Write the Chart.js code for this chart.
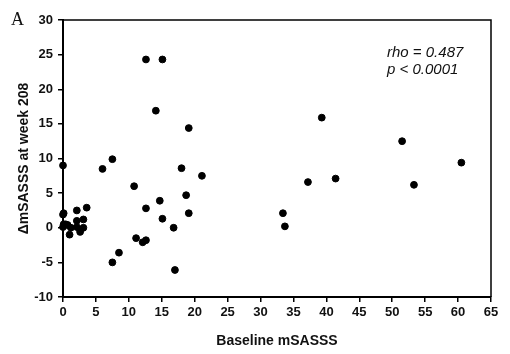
<!DOCTYPE html>
<html>
<head>
<meta charset="utf-8">
<script src="https://cdn.jsdelivr.net/npm/chart.js@4/dist/chart.umd.min.js"></script>
<style>
    html, body { margin: 0; padding: 0; background: #fff; }
    #wrap { width: 510px; height: 354px; position: relative; }
</style>
</head>
<body>
<div id="wrap"><canvas id="chart"></canvas></div>
<script>
// Baseline mSASSS (x) and change at week 208 (y)
const baseline = [0, 6.0, 7.5, 12.6, 15.1, 14.1, 19.1, 18.0, 21.1, 39.3, 51.5, 60.5, 37.2, 41.4, 53.3,
    33.4, 33.7, 10.8, 14.7, 12.6, 15.1, 18.7, 19.1, 11.1, 12.1, 12.6, 8.5, 7.5, 16.8, 17.0,
    0, 0, 0.1, 0.4, 0.7, 1.0, 1.2, 2.1, 2.1, 2.1, 2.6, 2.6, 3.1, 3.1, 3.6, 0.1];
const deltaWk208 = [9.0, 8.5, 9.9, 24.3, 24.3, 16.9, 14.4, 8.6, 7.5, 15.9, 12.5, 9.4, 6.6, 7.1, 6.2,
    2.1, 0.2, 6.0, 3.9, 2.8, 1.3, 4.7, 2.1, -1.5, -2.1, -1.8, -3.6, -5.0, 0, -6.1,
    1.9, 0.1, 0.5, 0.5, 0.4, -1.0, 0, 2.5, 1.0, 0.1, -0.3, -0.6, 1.2, 0, 2.9, 2.1];

const xTicks = [0, 5, 10, 15, 20, 25, 30, 35, 40, 45, 50, 55, 60, 65];
const yTicks = [-10, -5, 0, 5, 10, 15, 20, 25, 30];
const statLines = ['rho = 0.487', 'p < 0.0001'];

const points = baseline.map((x, i) => ({ x: x, y: deltaWk208[i] }));

// frame, panel letter and stats text
const extras = {
    id: 'extras',
    afterDraw(chart) {
        const ctx = chart.ctx;
        const a = chart.chartArea;
        ctx.save();
        ctx.strokeStyle = '#000';
        ctx.lineWidth = 1.5;
        ctx.beginPath();
        ctx.moveTo(a.left, a.top);
        ctx.lineTo(a.right, a.top);
        ctx.lineTo(a.right, a.bottom);
        ctx.stroke();

        ctx.fillStyle = '#111';
        ctx.font = '18px "Liberation Serif", serif';
        ctx.textBaseline = 'alphabetic';
        ctx.fillText('A', 11, 25);

        ctx.font = 'italic 15px "Liberation Sans", Arial, sans-serif';
        ctx.fillText(statLines[0], 387, 57);
        ctx.fillText(statLines[1], 387, 74);
        ctx.restore();
    }
};

const tickFont = { family: '"Liberation Sans", Arial, sans-serif', size: 13, weight: 'bold' };
const titleFont = { family: '"Liberation Sans", Arial, sans-serif', size: 14, weight: 'bold' };

new Chart(document.getElementById('chart'), {
    type: 'scatter',
    data: {
        datasets: [{
            data: points,
            backgroundColor: '#000',
            borderColor: '#000',
            pointRadius: 3.4,
            pointHoverRadius: 3.4,
            clip: false
        }]
    },
    options: {
        responsive: true,
        maintainAspectRatio: false,
        animation: false,
        layout: { padding: { top: 20, right: 19, left: 0, bottom: 0 } },
        plugins: { legend: { display: false }, tooltip: { enabled: false } },
        scales: {
            x: {
                type: 'linear',
                min: 0,
                max: 65,
                afterBuildTicks: s => { s.ticks = xTicks.map(v => ({ value: v })); },
                afterFit: s => { s.height = 57; },
                border: { color: '#000', width: 2 },
                grid: { drawOnChartArea: false, drawTicks: true, tickLength: 5, color: '#000', lineWidth: 1.5 },
                ticks: { color: '#111', font: tickFont, padding: 3, maxRotation: 0 },
                title: { display: true, text: 'Baseline mSASSS', color: '#111', font: titleFont, padding: { top: 8 } }
            },
            y: {
                type: 'linear',
                min: -10,
                max: 30,
                afterBuildTicks: s => { s.ticks = yTicks.map(v => ({ value: v })); },
                afterFit: s => { s.width = 63; },
                border: { color: '#000', width: 2 },
                grid: { drawOnChartArea: false, drawTicks: true, tickLength: 5, color: '#000', lineWidth: 1.5 },
                ticks: { color: '#111', font: tickFont, padding: 5 },
                title: { display: true, text: 'ΔmSASSS at week 208', color: '#111', font: titleFont, padding: { top: 16 } }
            }
        }
    },
    plugins: [extras]
});
</script>
</body>
</html>
